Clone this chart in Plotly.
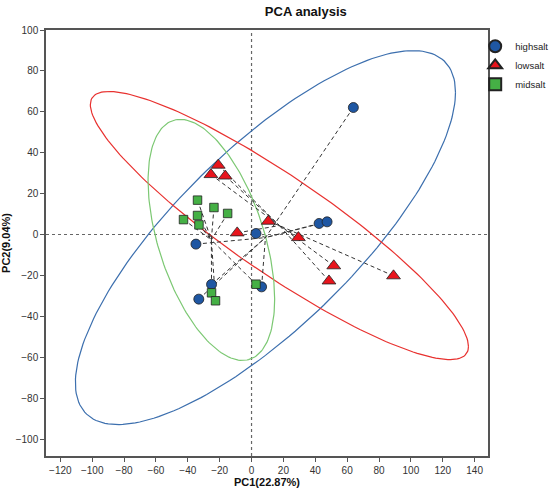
import numpy as np
import plotly.graph_objects as go

# sample scores
high_x = [63.9, 42.4, 47.4, 2.8, -34.9, -25.1, -33.1, 6.3]
high_y = [62.1, 5.4, 6.2, 0.5, -4.7, -24.4, -31.6, -25.6]
low_x = [-20.9, -25.5, -16.5, -9.0, 10.5, 29.4, 51.6, 48.6, 89.1]
low_y = [33.9, 29.3, 28.6, 0.8, 6.5, -1.5, -15.3, -22.7, -20.2]
mid_x = [-33.9, -23.6, -15.0, -33.9, -42.7, -33.0, 2.8, -25.1, -22.6]
mid_y = [16.8, 13.2, 10.3, 9.3, 7.3, 4.7, -24.3, -28.5, -32.4]

x_ticks = list(range(-120, 141, 20))
y_ticks = list(range(-100, 101, 20))

groups = [
    ("highsalt", high_x, high_y, "circle", 10, "#1f57a3", "#3c6fae"),
    ("lowsalt", low_x, low_y, "triangle-up", 12, "#e8141c", "#e8312f"),
    ("midsalt", mid_x, mid_y, "square", 8.5, "#45b045", "#7cc873"),
]


def norm_ellipse(xs, ys, level=0.95, segments=200):
    # normal-theory confidence ellipse (like stat_ellipse(type="norm"))
    X = np.column_stack([xs, ys])
    center = X.mean(axis=0)
    shape = np.cov(X, rowvar=False)
    dfd = len(xs) - 1
    qf = dfd / 2 * ((1 - level) ** (-2 / dfd) - 1)
    radius = np.sqrt(2 * qf)
    ang = np.linspace(0, 2 * np.pi, segments + 1)
    circle = np.column_stack([np.cos(ang), np.sin(ang)])
    pts = center + radius * (circle @ np.linalg.cholesky(shape).T)
    return pts[:, 0], pts[:, 1]


fig = go.Figure()

# ellipses
for name, xs, ys, sym, size, fill, line_col in groups:
    ex, ey = norm_ellipse(xs, ys)
    fig.add_trace(go.Scatter(x=ex, y=ey, mode="lines", line=dict(color=line_col, width=1.2),
                             showlegend=False, hoverinfo="skip"))

# dashed spokes to the group centroid
for name, xs, ys, sym, size, fill, line_col in groups:
    cx, cy = np.mean(xs), np.mean(ys)
    sx, sy = [], []
    for a, b in zip(xs, ys):
        sx += [a, cx, None]
        sy += [b, cy, None]
    fig.add_trace(go.Scatter(x=sx, y=sy, mode="lines",
                             line=dict(color="#333333", width=1, dash="4px,3px"),
                             showlegend=False, hoverinfo="skip"))

for name, xs, ys, sym, size, fill, line_col in groups:
    fig.add_trace(go.Scatter(x=xs, y=ys, mode="markers", name=name,
                             marker=dict(symbol=sym, size=size, color=fill,
                                         line=dict(color="#222222", width=0.8))))

dot = dict(color="#666666", width=1.2, dash="dot")
fig.add_shape(type="line", xref="x", yref="paper", x0=0, x1=0, y0=0, y1=1, line=dot, layer="below")
fig.add_shape(type="line", xref="paper", yref="y", x0=0, x1=1, y0=0, y1=0, line=dot, layer="below")

axis_common = dict(showline=True, mirror=True, linecolor="#555555", linewidth=1.5,
                   ticks="outside", ticklen=4, tickcolor="#555555", showgrid=False,
                   zeroline=False, automargin=False, tickfont=dict(size=10, color="#333333"))

fig.update_xaxes(range=[-129, 148.4], tickvals=x_ticks,
                 title=dict(text="<b>PC1(22.87%)</b>", font=dict(size=11, color="#111111"), standoff=2),
                 **axis_common)
fig.update_yaxes(range=[-108.3, 100], tickvals=y_ticks,
                 title=dict(text="<b>PC2(9.04%)</b>", font=dict(size=11, color="#111111"), standoff=4),
                 **axis_common)

fig.update_layout(
    width=550, height=489,
    margin=dict(l=46, r=62, t=30, b=33, autoexpand=False),
    plot_bgcolor="white", paper_bgcolor="white",
    font=dict(family="Liberation Sans, Arial, sans-serif"),
    title=dict(text="<b>PCA analysis</b>", x=0.556, xanchor="center", y=0.976, yanchor="middle",
               font=dict(size=13, color="#111111")),
    legend=dict(xref="container", yref="container", x=0.864, y=0.935,
                xanchor="left", yanchor="top", font=dict(size=9.5, color="#222222"),
                tracegroupgap=0, itemsizing="constant", bgcolor="rgba(0,0,0,0)"),
)

# drop the browser's default body margin so the figure sits at the page corner
fig.write_html("out.html", config={"displayModeBar": False},
               post_script="document.body.style.margin='0';")
